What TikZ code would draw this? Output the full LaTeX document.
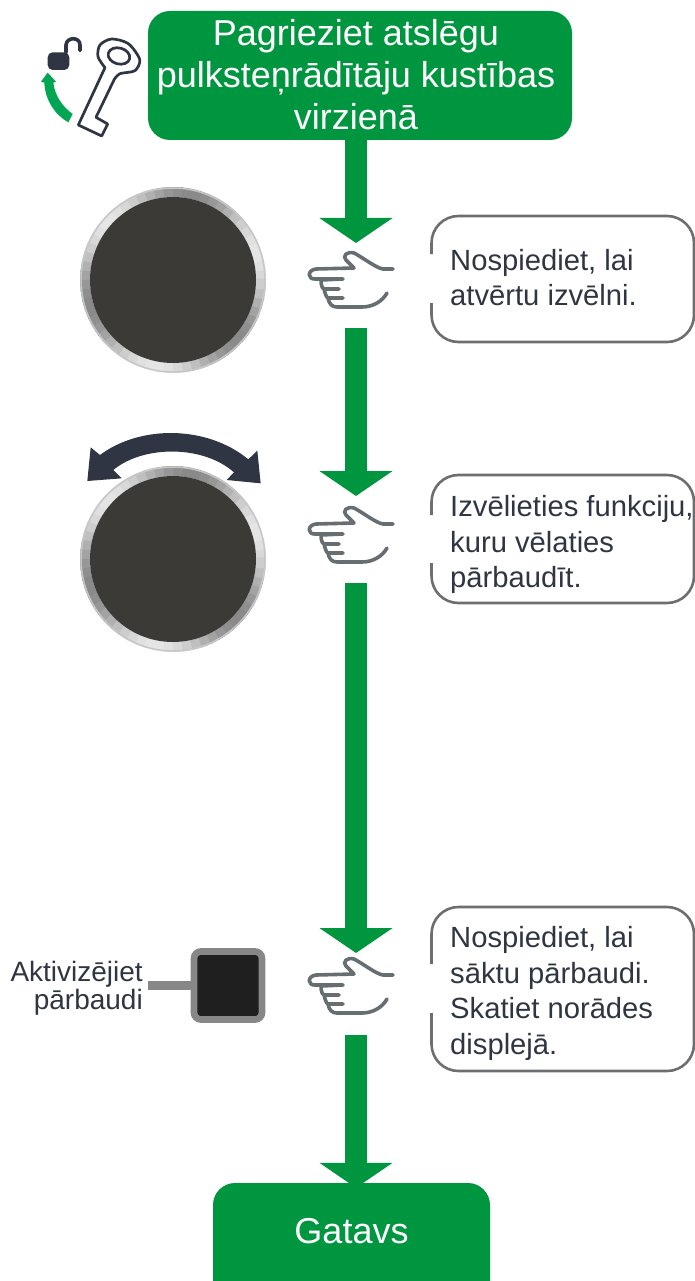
\documentclass[tikz,border=0pt]{standalone}
\usepackage{fontspec}
\setmainfont{Liberation Sans}
\usetikzlibrary{arrows.meta}
\definecolor{flowgreen}{HTML}{009640}
\definecolor{tipgreen}{HTML}{00A651}
\definecolor{inkdark}{HTML}{2F3542}
\definecolor{handgray}{HTML}{676E72}
\definecolor{bubblegray}{HTML}{6D6E70}
\definecolor{knobdark}{HTML}{3C3A37}
\tikzset{
  flowbox/.style={fill=flowgreen,rounded corners=22pt,text=white,align=center,inner sep=0pt},
  flowarrow/.style={draw=flowgreen,line width=22pt,-{Triangle[length=25pt,width=72pt]}},
  handspot/.style={minimum width=90pt,inner sep=0pt,outer sep=0pt},
  bubble/.style={draw=bubblegray,line width=2.6pt,line cap=butt},
  notetext/.style={text=inkdark,font=\fontsize{29.2}{35.5}\selectfont,align=left,anchor=north west,inner sep=0pt},
  pics/pointhand/.style={code={
    \draw[handgray,line width=3.6pt,line cap=round,line join=round]
      (41,-11) -- (31,-11) .. controls (24,-12) and (10,-23) .. (2,-27)
      .. controls (-5,-29) and (-10,-24) .. (-6,-20) -- (2,-12)
      -- (-36,-11) .. controls (-45,-10) and (-45,0) .. (-36,-1) -- (-9,-1)
      (-10,-1) -- (-31,0) (-31,0) .. controls (-31,5) and (-30,8) .. (-28,9) -- (-13,9)
      (-28,9) .. controls (-27,13) and (-26,17) .. (-24,18) -- (-9,18)
      (-24,18) .. controls (-23,24) and (-20,27) .. (-15,27) -- (10,27)
      .. controls (20,27) and (30,22) .. (35,13);
  }}
}
\begin{document}
\begin{tikzpicture}[x=1pt,y=-1pt]
  \useasboundingbox (0,0) rectangle (695,1281);
  %boxes
  \node[flowbox,minimum width=424pt,minimum height=129pt] (start) at (360,75.5) {};
  \node[text=white,align=center,font=\fontsize{36}{42}\selectfont] (starttext) at (356,75)
    {Pagrieziet atslēgu\\pulksteņrādītāju kustības\\virzienā};
  \begin{scope}
    \clip (0,0) rectangle (695,1281);
    \node[flowbox,minimum width=277pt,minimum height=130pt] (finish) at (351.5,1248) {};
  \end{scope}
  %hands
  \node[handspot,minimum height=85pt] (hand a) at (356,285.5) {};
  \node[handspot,minimum height=87pt] (hand b) at (356,539.5) {};
  \node[handspot,minimum height=82pt] (hand c) at (356,994) {};
  \pic at (352,280) {pointhand};
  \pic at (352,535) {pointhand};
  \pic at (352,986) {pointhand};
  %arrows
  \draw[flowarrow] (start.south -| hand a.north) -- (hand a.north);
  \draw[flowarrow] (hand a.south) -- (hand b.north);
  \draw[flowarrow] (hand b.south) -- (hand c.north);
  \draw[flowarrow,shorten >=-5pt] (hand c.south) -- (hand c.south |- finish.north);
  \node[text=white,font=\fontsize{36}{37}\selectfont] (finishtext) at (351.5,1231) {Gatavs};
  %bubbles
  \foreach \top/\bottom/\gapa/\gapb in {216/342/254/303, 475/603/515/563, 907/1071/964/1013}{
    \draw[bubble] (431.5,\gapa) -- (431.5,\top+27) arc[start angle=180,end angle=90,radius=27pt]
      -- (667,\top) arc[start angle=90,end angle=0,radius=27pt] -- (694,\bottom-27)
      arc[start angle=0,end angle=-90,radius=27pt] -- (458.5,\bottom)
      arc[start angle=270,end angle=180,radius=27pt] -- (431.5,\gapb);
  }
  \node[notetext] (note a) at (450,249) {Nospiediet, lai\\atvērtu izvēlni.};
  \node[notetext] (note b) at (450,495.5) {Izvēlieties funkciju,\\kuru vēlaties\\pārbaudīt.};
  \node[notetext] (note c) at (450,926.5) {Nospiediet, lai\\sāktu pārbaudi.\\Skatiet norādes\\displejā.};
  %knobs
  \foreach \cy in {280,559}{
    \foreach \ang in {0,6,...,354}{
      \pgfmathsetmacro\lev{72+18*cos(3*(\ang-135))}
      \draw[white!\lev!black,line width=10pt] (173,\cy) ++(\ang:88pt) arc[start angle=\ang,end angle=\ang+7,radius=88pt];
    }
    \draw[black!22,line width=1.5pt] (173,\cy) circle[radius=92pt];
    \fill[knobdark] (173,\cy) circle[radius=83pt];
  }
  %double arrow over knob
  \begin{scope}[shift={(70,420)},x=.3333pt,y=-.3333pt]
    \fill[inkdark] (90,105) .. controls (210,15) and (410,15) .. (535,118) -- (562,92) -- (572,190)
      -- (470,180) -- (492,157) .. controls (400,75) and (220,75) .. (130,150)
      -- (155,175) -- (52,183) -- (62,82) -- cycle;
  \end{scope}
  %button
  \node[draw=black!47,fill=black!88,line width=6.7pt,rounded corners=7pt,minimum size=68pt,inner sep=0pt] (btn) at (228,985.5) {};
  \node[text=inkdark,align=right,anchor=east,inner sep=0pt,font=\fontsize{28}{28}\selectfont] (btn label) at (143,988) {Aktivizējiet\\pārbaudi};
  \coordinate (btn stem) at (148,985.5);
  \draw[black!47,line width=9pt] (btn stem) -- (btn.west);
  %key and lock
  \begin{scope}[x=.3333pt,y=-.3333pt]
    \draw[inkdark,line width=2.7pt,line join=round,line cap=round]
      plot[smooth] coordinates {(343,238) (360,221) (405,212) (419,178) (385,131) (335,117) (300,135) (294,170) (315,203)}
      -- (235,375) -- (305,408) -- (323,372) -- (288,352) -- (343,238);
    \draw[inkdark,line width=2.7pt,rotate around={-15:(357,168)}] (357,168) ellipse (33 and 24);
    \fill[inkdark,rounded corners=5pt] (143,157) rectangle (208,210);
    \draw[inkdark,line width=3.6pt,line cap=round] (198,157) -- (198,135) .. controls (200,110) and (240,110) .. (240,135) -- (240,152);
    \fill[tipgreen] (218,342) .. controls (190,322) and (165,290) .. (160,248) -- (168,245) -- (143,218) -- (123,245)
      -- (133,248) .. controls (135,300) and (165,345) .. (205,367) -- cycle;
  \end{scope}
\end{tikzpicture}
\end{document}
